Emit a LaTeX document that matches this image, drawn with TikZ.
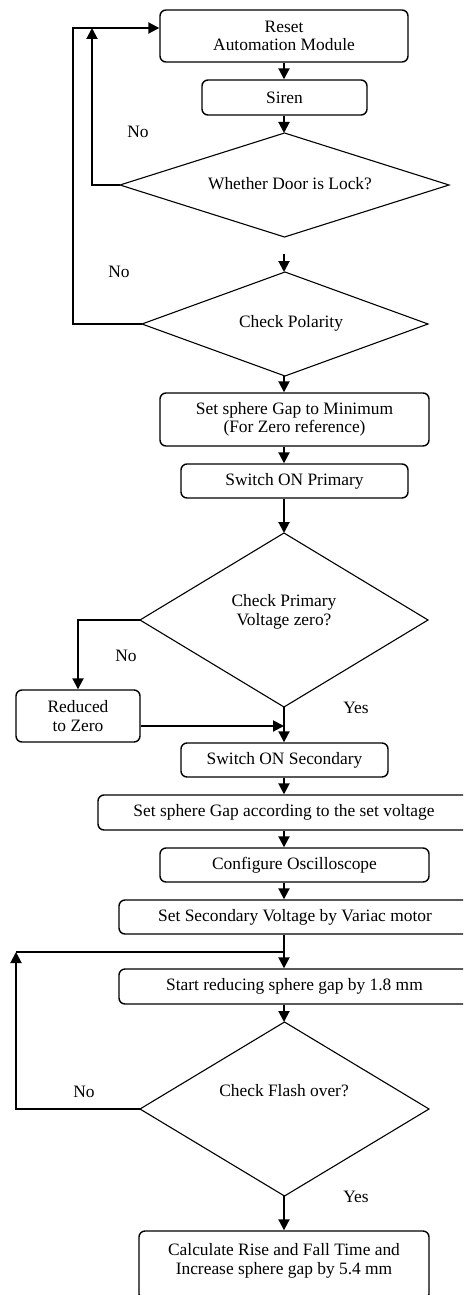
\documentclass[tikz,border=0pt]{standalone}
\usepackage{fontspec}
\setmainfont{Liberation Serif}
\usetikzlibrary{arrows.meta,shapes.geometric}
\begin{document}
\begin{tikzpicture}[x=0.5pt,y=-0.5pt,
  every node/.style={font=\fontsize{8.7pt}{9.2pt}\selectfont},
  box/.style={draw, line width=0.7pt, rounded corners=3pt, align=center, inner sep=0pt},
  dia/.style={draw, line width=0.55pt, diamond, inner sep=0pt, outer sep=0pt},
  arr/.style={line width=1pt, -{Triangle[length=5.5pt,width=5.5pt]}},
  ln/.style={line width=1pt},
  txt/.style={inner sep=0pt, align=center}]
\useasboundingbox (0,0) rectangle (463,1295);
\clip (0,0) rectangle (463,1295);
% axis
\coordinate (ax) at (284,0);
% boxes
\node[box, minimum width=124pt, minimum height=26pt] (reset) at (284,36) {Reset\\Automation Module};
\node[box, minimum width=82.5pt, minimum height=17.5pt] (siren) at (284.5,97.5) {Siren};
\node[dia, minimum width=164.5pt, minimum height=52pt] (dia1) at (284.5,185) {};
\node[txt] (dia1t) at (290,184) {Whether Door is Lock?};
\node[dia, minimum width=143pt, minimum height=52pt] (dia2) at (285,324) {};
\node[txt] (dia2t) at (291,323) {Check Polarity};
\node[box, minimum width=134.5pt, minimum height=26.5pt] (setmin) at (294.5,419.5) {Set sphere Gap to Minimum\\(For Zero reference)};
\node[box, minimum width=113.5pt, minimum height=17pt] (swprim) at (294.5,481) {Switch ON Primary};
\node[dia, minimum width=144pt, minimum height=87pt] (dia3) at (284,620) {};
\node[txt] (dia3t) at (284,612) {Check Primary\\Voltage zero?};
\node[box, minimum width=62pt, minimum height=26pt] (reduced) at (78,716) {Reduced\\to Zero};
\node[box, minimum width=103.5pt, minimum height=17pt] (swsec) at (284.5,760) {Switch ON Secondary};
\node[box, minimum width=186pt, minimum height=17.5pt] (setgap) at (284,812.5) {Set sphere Gap according to the set voltage};
\node[box, minimum width=134.5pt, minimum height=17pt] (osc) at (294.5,865) {Configure Oscilloscope};
\node[box, minimum width=176pt, minimum height=17pt] (setsec) at (295,917) {Set Secondary Voltage by Variac motor};
\node[box, minimum width=175.5pt, minimum height=17.5pt] (start) at (294.5,986.5) {Start reducing sphere gap by 1.8 mm};
\node[dia, minimum width=144.5pt, minimum height=87pt] (dia4) at (284.5,1109) {};
\node[txt] (dia4t) at (284,1091) {Check Flash over?};
\node[box, minimum width=145pt, minimum height=34.5pt] (final) at (284,1265.5) {};
\node[txt] (finalt) at (284,1261) {Calculate Rise and Fall Time and\\Increase sphere gap by 5.4 mm};
% labels
\node[txt] (no1) at (138,132) {No};
\node[txt] (no2) at (119,272) {No};
\node[txt] (no3) at (126,656) {No};
\node[txt] (yes1) at (356,708) {Yes};
\node[txt] (no4) at (84,1092) {No};
\node[txt] (yes2) at (356,1197) {Yes};
% helper coordinates
\coordinate (top) at (0,28);
\coordinate (c1) at (92,28);
\coordinate (c2) at (73,28);
\coordinate (gap) at (284,254);
\coordinate (join) at (284,726);
\coordinate (c4) at (16,952);
\coordinate (j4) at (284,952);
% connectors
\draw[arr] (ax |- reset.south) -- (ax |- siren.north);
\draw[arr] (ax |- siren.south) -- (ax |- dia1.north);
\draw[arr] (gap) -- (ax |- dia2.north);
\draw[arr] (dia1.west) -| (c1);
\draw[arr] (dia2.west) -| (c2) -- (reset.west |- top);
\draw[arr] (ax |- dia2.south) -- (ax |- setmin.north);
\draw[arr] (ax |- setmin.south) -- (ax |- swprim.north);
\draw[arr] (ax |- swprim.south) -- (ax |- dia3.north);
\draw[arr] (dia3.west) -| (reduced.north);
\draw[arr] (reduced.east |- join) -- (join);
\draw[arr] (ax |- dia3.south) -- (ax |- swsec.north);
\draw[arr] (ax |- swsec.south) -- (ax |- setgap.north);
\draw[arr] (ax |- setgap.south) -- (ax |- osc.north);
\draw[arr] (ax |- osc.south) -- (ax |- setsec.north);
\draw[arr] (ax |- setsec.south) -- (ax |- start.north);
\draw[arr] (ax |- start.south) -- (ax |- dia4.north);
\draw[arr] (dia4.west) -| (c4);
\draw[ln] (c4) -- (j4);
\draw[arr] (ax |- dia4.south) -- (ax |- final.north);
\end{tikzpicture}
\end{document}
